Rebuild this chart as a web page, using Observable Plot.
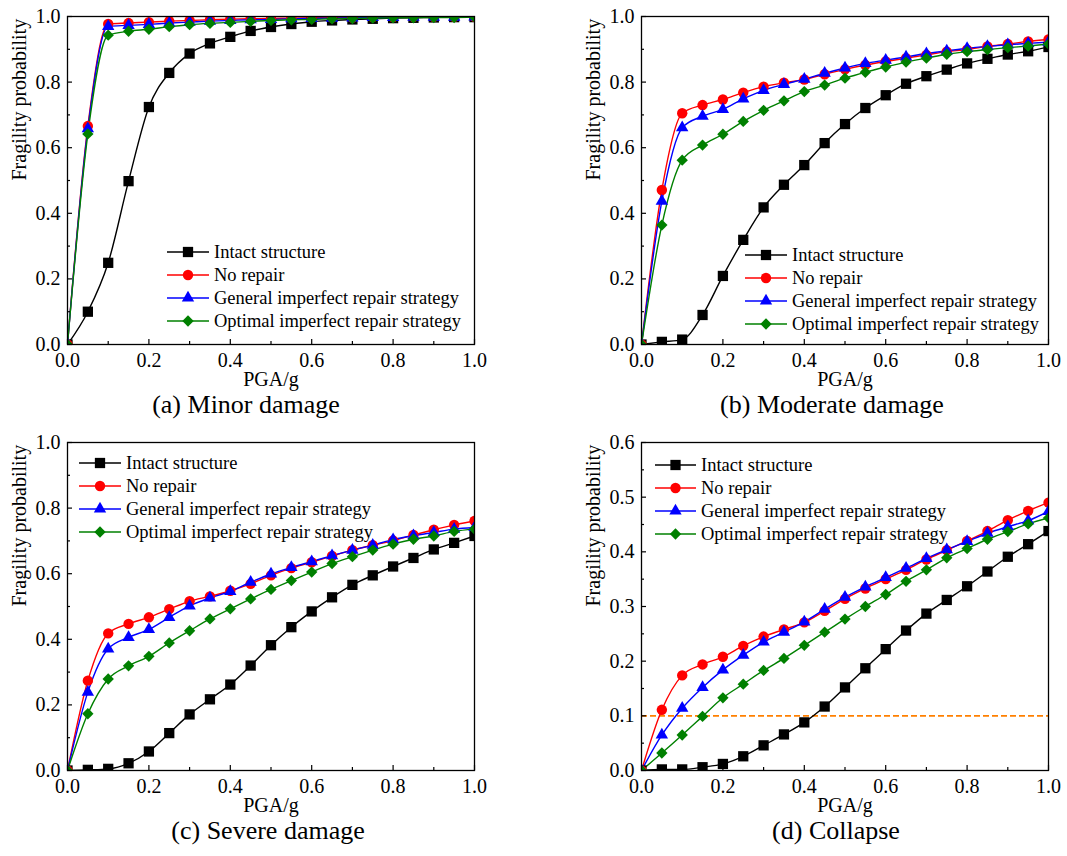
<!DOCTYPE html>
<html><head><meta charset="utf-8">
<script src="https://cdn.jsdelivr.net/npm/d3@7"></script>
<script src="https://cdn.jsdelivr.net/npm/@observablehq/plot@0.6"></script>
<style>
body{margin:0;background:#fff;font-family:"Liberation Serif","Times New Roman",serif;}
#root{position:relative;width:1067px;height:856px;overflow:hidden;background:#fff;}
.panel{position:absolute;}
.row{position:absolute;display:flex;align-items:center;height:20px;white-space:nowrap;font-size:18.5px;color:#000;font-family:"Liberation Serif","Times New Roman",serif;}
.row svg{display:block;overflow:visible;}
</style></head><body><div id="root"></div>
<script>
// ---------- data ----------
const pga = [0, 0.05, 0.1, 0.15, 0.2, 0.25, 0.3, 0.35, 0.4, 0.45, 0.5, 0.55, 0.6, 0.65, 0.7, 0.75, 0.8, 0.85, 0.9, 0.95, 1.0];

const seriesNames = ["Intact structure", "No repair", "General imperfect repair strategy", "Optimal imperfect repair strategy"];
const seriesColors = ["#000000", "#ff0000", "#0000ff", "#008000"];

// (a) Minor damage
const minorIntact   = [0, 0.100, 0.249, 0.498, 0.724, 0.828, 0.887, 0.918, 0.938, 0.956, 0.968, 0.977, 0.984, 0.988, 0.991, 0.993, 0.995, 0.996, 0.997, 0.998, 0.998];
const minorNoRepair = [0, 0.666, 0.977, 0.980, 0.983, 0.986, 0.988, 0.990, 0.992, 0.993, 0.994, 0.995, 0.996, 0.997, 0.997, 0.998, 0.998, 0.999, 0.999, 0.999, 0.999];
const minorGeneral  = [0, 0.658, 0.970, 0.973, 0.976, 0.980, 0.983, 0.986, 0.988, 0.990, 0.991, 0.993, 0.994, 0.995, 0.996, 0.997, 0.997, 0.998, 0.998, 0.998, 0.999];
const minorOptimal  = [0, 0.642, 0.943, 0.955, 0.961, 0.969, 0.975, 0.979, 0.982, 0.985, 0.988, 0.990, 0.991, 0.993, 0.994, 0.995, 0.996, 0.996, 0.997, 0.997, 0.998];

// (b) Moderate damage
const moderateIntact   = [0, 0.008, 0.015, 0.090, 0.209, 0.319, 0.418, 0.487, 0.547, 0.614, 0.672, 0.721, 0.760, 0.795, 0.818, 0.838, 0.857, 0.871, 0.884, 0.894, 0.907];
const moderateNoRepair = [0, 0.471, 0.705, 0.730, 0.747, 0.768, 0.786, 0.798, 0.808, 0.824, 0.839, 0.852, 0.863, 0.873, 0.883, 0.893, 0.899, 0.909, 0.916, 0.924, 0.930];
const moderateGeneral  = [0, 0.437, 0.661, 0.696, 0.717, 0.749, 0.775, 0.793, 0.809, 0.827, 0.843, 0.857, 0.867, 0.877, 0.887, 0.895, 0.903, 0.909, 0.914, 0.918, 0.922];
const moderateOptimal  = [0, 0.364, 0.562, 0.608, 0.641, 0.680, 0.714, 0.743, 0.771, 0.791, 0.812, 0.830, 0.846, 0.861, 0.873, 0.885, 0.893, 0.899, 0.905, 0.910, 0.916];

// (c) Severe damage
const severeIntact   = [0, 0.002, 0.005, 0.022, 0.058, 0.114, 0.171, 0.217, 0.262, 0.320, 0.382, 0.437, 0.485, 0.528, 0.566, 0.595, 0.622, 0.648, 0.674, 0.694, 0.715];
const severeNoRepair = [0, 0.274, 0.418, 0.447, 0.467, 0.492, 0.516, 0.531, 0.548, 0.569, 0.595, 0.617, 0.635, 0.654, 0.672, 0.687, 0.701, 0.718, 0.734, 0.749, 0.761];
const severeGeneral  = [0, 0.239, 0.371, 0.406, 0.430, 0.467, 0.502, 0.526, 0.546, 0.574, 0.599, 0.619, 0.637, 0.655, 0.672, 0.687, 0.704, 0.716, 0.726, 0.736, 0.741];
const severeOptimal  = [0, 0.173, 0.279, 0.319, 0.348, 0.389, 0.426, 0.462, 0.493, 0.523, 0.552, 0.579, 0.605, 0.631, 0.652, 0.672, 0.690, 0.705, 0.715, 0.729, 0.736];

// (d) Collapse
const collapseIntact   = [0, 0.002, 0.002, 0.006, 0.012, 0.026, 0.046, 0.066, 0.088, 0.117, 0.152, 0.187, 0.222, 0.256, 0.287, 0.312, 0.337, 0.364, 0.391, 0.414, 0.438];
const collapseNoRepair = [0, 0.111, 0.174, 0.194, 0.208, 0.228, 0.245, 0.258, 0.271, 0.292, 0.314, 0.333, 0.350, 0.367, 0.386, 0.403, 0.420, 0.438, 0.458, 0.475, 0.490];
const collapseGeneral  = [0, 0.065, 0.114, 0.152, 0.184, 0.211, 0.235, 0.253, 0.272, 0.295, 0.317, 0.336, 0.353, 0.370, 0.388, 0.404, 0.419, 0.434, 0.446, 0.457, 0.474];
const collapseOptimal  = [0, 0.032, 0.065, 0.099, 0.133, 0.158, 0.183, 0.205, 0.229, 0.253, 0.277, 0.300, 0.322, 0.346, 0.367, 0.389, 0.406, 0.423, 0.437, 0.451, 0.462];
const collapseThreshold = [0.1];

// ticks
const xMajorTicks = [0, 0.2, 0.4, 0.6, 0.8, 1.0];
const xMinorTicks = [0.1, 0.3, 0.5, 0.7, 0.9];
const probMajorTicks = [0, 0.2, 0.4, 0.6, 0.8, 1.0];
const probMinorTicks = [0.1, 0.3, 0.5, 0.7, 0.9];
const collapseMajorTicks = [0, 0.1, 0.2, 0.3, 0.4, 0.5, 0.6];
const collapseMinorTicks = [0.05, 0.15, 0.25, 0.35, 0.45, 0.55];

// ---------- styling ----------
const FONT = '"Liberation Serif","Times New Roman",serif';
const symbols = [d3.symbolSquare, d3.symbolCircle, d3.symbolTriangle, d3.symbolDiamond2];
const symR = [5.8, 5.2, 4.6, 5.1];
const PW = 407, PH = 328, ML = 67, MT = 16;

const panels = [
  {caption: "(a) Minor damage", capDx: -25, left: 0, top: 0, width: 533, height: 426, ymax: 1, yMaj: probMajorTicks, yMin: probMinorTicks,
   series: [minorIntact, minorNoRepair, minorGeneral, minorOptimal], leg: {sx: 100, tx: 147, rows: [236, 259, 282, 305]}},
  {caption: "(b) Moderate damage", capDx: -13, left: 574, top: 0, width: 493, height: 426, ymax: 1, yMaj: probMajorTicks, yMin: probMinorTicks,
   series: [moderateIntact, moderateNoRepair, moderateGeneral, moderateOptimal], leg: {sx: 104, tx: 151, rows: [239, 262, 285, 308]}},
  {caption: "(c) Severe damage", capDx: -3, left: 0, top: 426, width: 533, height: 430, ymax: 1, yMaj: probMajorTicks, yMin: probMinorTicks,
   series: [severeIntact, severeNoRepair, severeGeneral, severeOptimal], leg: {sx: 12, tx: 59, rows: [20.5, 44, 67, 90]}},
  {caption: "(d) Collapse", capDx: -9, left: 574, top: 426, width: 493, height: 430, ymax: 0.6, yMaj: collapseMajorTicks, yMin: collapseMinorTicks,
   series: [collapseIntact, collapseNoRepair, collapseGeneral, collapseOptimal], threshold: collapseThreshold, leg: {sx: 14, tx: 60, rows: [22.5, 45.5, 69, 92]}}
];

const root = document.getElementById("root");

for (const p of panels) {
  const marks = [];
  if (p.threshold) {
    marks.push(Plot.ruleY(p.threshold, {y: d => d, stroke: "#ff8000", strokeWidth: 1.9, strokeDasharray: "6,3"}));
  }
  p.series.forEach((vals, i) => {
    const data = pga.map((x, j) => ({x, y: vals[j]}));
    marks.push(Plot.line(data, {x: "x", y: "y", stroke: seriesColors[i], strokeWidth: 1.4, curve: "monotone-x", clip: true}));
  });
  p.series.forEach((vals, i) => {
    const data = pga.map((x, j) => ({x, y: vals[j]}));
    marks.push(Plot.dot(data, {x: "x", y: "y", symbol: symbols[i], r: symR[i], fill: seriesColors[i], stroke: "none", clip: true}));
  });
  // inward ticks
  marks.push(Plot.tickY(p.yMaj, {y: d => d, insetRight: PW - 5, stroke: "black", strokeWidth: 1.2}));
  marks.push(Plot.tickY(p.yMin, {y: d => d, insetRight: PW - 3, stroke: "black", strokeWidth: 1.2}));
  marks.push(Plot.tickX(xMajorTicks, {x: d => d, insetTop: PH - 5, stroke: "black", strokeWidth: 1.2}));
  marks.push(Plot.tickX(xMinorTicks, {x: d => d, insetTop: PH - 3, stroke: "black", strokeWidth: 1.2}));
  // axes labels
  marks.push(Plot.axisX(xMajorTicks, {tickSize: 0, tickPadding: 8, tickFormat: d3.format(".1f"), fontSize: 20, label: null, fill: "black"}));
  marks.push(Plot.axisY(p.yMaj, {tickSize: 0, tickPadding: 7, tickFormat: d3.format(".1f"), fontSize: 20, label: null, fill: "black"}));
  marks.push(Plot.text(["PGA/g"], {text: d => d, frameAnchor: "bottom", dy: 41.5, fontSize: 20, fill: "black"}));
  marks.push(Plot.text(["Fragility probability"], {text: d => d, frameAnchor: "left", dx: -48, rotate: -90, fontSize: 20, fill: "black"}));
  marks.push(Plot.text([p.caption], {text: d => d, frameAnchor: "bottom", dx: p.capDx, dy: 68, fontSize: 26, fill: "black"}));
  marks.push(Plot.frame({stroke: "black", strokeWidth: 1.3}));

  const chart = Plot.plot({
    width: p.width, height: p.height,
    marginLeft: ML, marginTop: MT, marginRight: p.width - ML - PW, marginBottom: p.height - MT - PH,
    x: {domain: [0, 1], label: null},
    y: {domain: [0, p.ymax], label: null},
    style: {fontFamily: FONT, fontSize: "20px", color: "black", background: "transparent", overflow: "visible"},
    marks
  });
  const div = document.createElement("div");
  div.className = "panel";
  div.style.left = p.left + "px";
  div.style.top = p.top + "px";
  div.appendChild(chart);
  root.appendChild(div);

  // legend (HTML overlay inside the plot frame)
  const fl = p.left + ML, ft = p.top + MT;
  seriesNames.forEach((name, i) => {
    const row = document.createElement("div");
    row.className = "row";
    row.style.left = (fl + p.leg.sx) + "px";
    row.style.top = (ft + p.leg.rows[i] - 10) + "px";
    const sw = p.leg.tx - p.leg.sx - 5;
    const path = d3.symbol().type(symbols[i]).size(Math.PI * symR[i] * symR[i])();
    row.innerHTML = `<svg width="${sw}" height="20"><line x1="0" x2="${sw}" y1="10" y2="10" stroke="${seriesColors[i]}" stroke-width="1.4"/>` +
      `<path d="${path}" transform="translate(${sw / 2},10)" fill="${seriesColors[i]}"/></svg>` +
      `<span style="margin-left:5px;line-height:20px">${name}</span>`;
    root.appendChild(row);
  });
}
</script>
</body></html>
